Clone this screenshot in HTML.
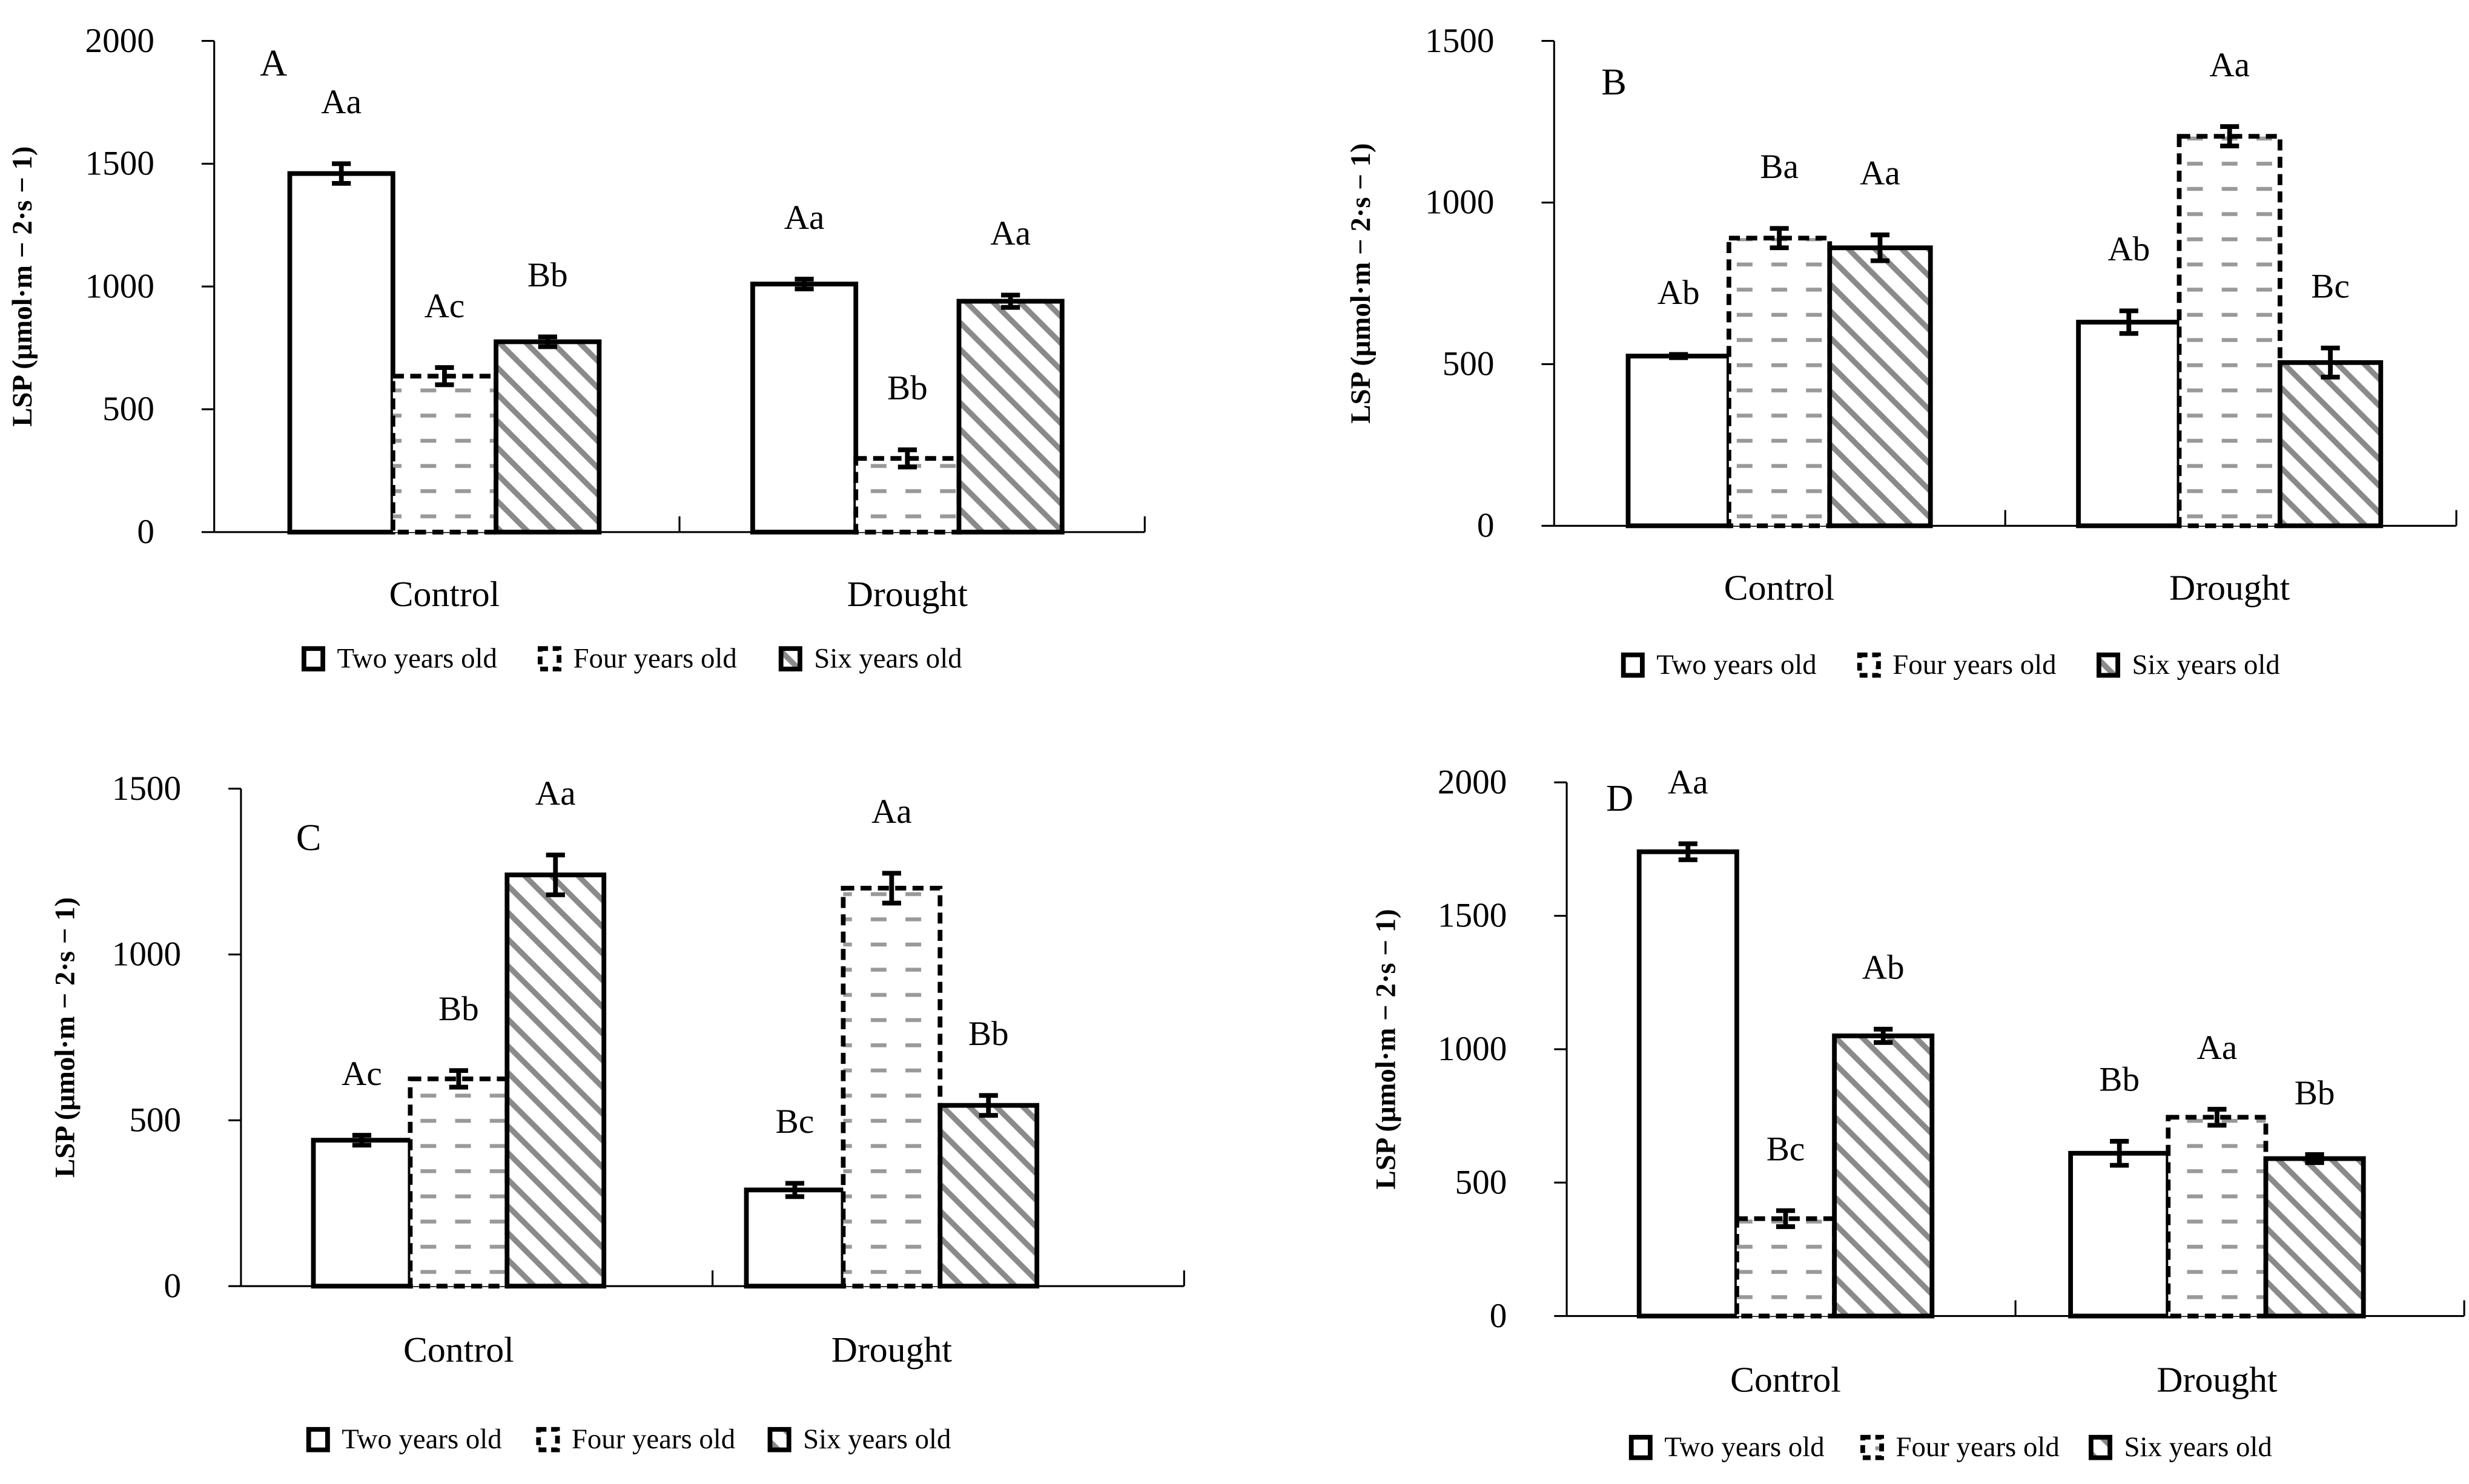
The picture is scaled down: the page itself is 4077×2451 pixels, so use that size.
<!DOCTYPE html>
<html><head><meta charset="utf-8"><style>
html,body{margin:0;padding:0;background:#fff;}
svg{display:block;}
svg text{font-family:"Liberation Serif","DejaVu Serif",serif;}
</style></head><body>
<svg id="chart" width="4077" height="2451" viewBox="0 0 1568 942.7" xmlns="http://www.w3.org/2000/svg" font-family="Liberation Serif, serif">
<defs>
<pattern id="dash" width="22" height="16" patternUnits="userSpaceOnUse">
<rect width="22" height="16" fill="#fff"/>
<line x1="3" y1="8" x2="13" y2="8" stroke="#999" stroke-width="2.5"/>
</pattern>
<pattern id="diag" width="12" height="12" patternUnits="userSpaceOnUse" patternTransform="rotate(45)">
<rect width="12" height="12" fill="#fff"/>
<rect x="0" y="0" width="12" height="3.5" fill="#8a8a8a"/>
</pattern>
</defs>
</svg>
<script>
const categories = ["Control", "Drought"];
const seriesNames = ["Two years old", "Four years old", "Six years old"];
const yTicksA = [0, 500, 1000, 1500, 2000];
const yTicksB = [0, 500, 1000, 1500];
const yTicksC = [0, 500, 1000, 1500];
const yTicksD = [0, 500, 1000, 1500, 2000];
const valuesA = [[1460, 635, 775], [1010, 300, 940]];
const errorsA = [[40, 35, 20], [20, 35, 25]];
const lettersA = [["Aa", "Ac", "Bb"], ["Aa", "Bb", "Aa"]];
const valuesB = [[525, 890, 860], [630, 1205, 505]];
const errorsB = [[5, 30, 40], [35, 30, 45]];
const lettersB = [["Ab", "Ba", "Aa"], ["Ab", "Aa", "Bc"]];
const valuesC = [[440, 625, 1240], [290, 1200, 545]];
const errorsC = [[15, 25, 60], [20, 45, 30]];
const lettersC = [["Ac", "Bb", "Aa"], ["Bc", "Aa", "Bb"]];
const valuesD = [[1740, 365, 1050], [610, 745, 590]];
const errorsD = [[30, 30, 25], [45, 30, 15]];
const lettersD = [["Aa", "Bc", "Ab"], ["Bb", "Aa", "Bb"]];

const NS = "http://www.w3.org/2000/svg";
const svg = document.getElementById("chart");
function mk(tag, attrs, parent) {
  const e = document.createElementNS(NS, tag);
  for (const k in attrs) e.setAttribute(k, attrs[k]);
  if (tag === "text") e.setAttribute("font-family", "Liberation Serif, serif");
  (parent || svg).appendChild(e);
  return e;
}
const fills = ["#fff", "url(#dash)", "url(#diag)"];
const dashes = ["none", "7,4", "none"];

const panels = [
  {id:"a", letter:"A", ax:136, top:26, zero:338, right:727, ticks:yTicksA, vals:valuesA, errs:errorsA, lets:lettersA, ylx:20, lx:[165,48], catY:385, legY:418, legX:[193,343,496], g0:184, bw:65.5, gstep:294},
  {id:"b", letter:"B", ax:987, top:26, zero:334, right:1560, ticks:yTicksB, vals:valuesB, errs:errorsB, lets:lettersB, ylx:870, lx:[1017,60], catY:381, legY:422, legX:[1031,1181,1333], g0:1034, bw:64, gstep:286},
  {id:"c", letter:"C", ax:153, top:501, zero:817, right:752, ticks:yTicksC, vals:valuesC, errs:errorsC, lets:lettersC, ylx:47, lx:[188,540], catY:865, legY:914, legX:[196,342,489], g0:199, bw:61.5, gstep:275},
  {id:"d", letter:"D", ax:995, top:497, zero:836, right:1565, ticks:yTicksD, vals:valuesD, errs:errorsD, lets:lettersD, ylx:886, lx:[1020,515], catY:884, legY:919, legX:[1036,1183,1328], g0:1041, bw:62, gstep:274}
];

panels.forEach(p => {
  const g = mk("g", {});
  
  
  const max = p.ticks[p.ticks.length - 1];
  const y = v => p.zero - v / max * (p.zero - p.top);
  const xBar = (c, s) => p.g0 + c * p.gstep + s * p.bw;
  const ya = mk("line", {x1:p.ax, y1:p.top, x2:p.ax, y2:p.zero, stroke:"#000", "stroke-width":1.2}, g);
  
  
  p.ticks.forEach(t => {
    mk("line", {x1:p.ax - 8, y1:y(t), x2:p.ax, y2:y(t), stroke:"#000", "stroke-width":1.2}, g);
    const tl = mk("text", {x:p.ax - 38, y:y(t) + 7, "text-anchor":"end", "font-size":22}, g);
    tl.textContent = t;
    
    
  });
  const xa = mk("line", {x1:p.ax, y1:p.zero, x2:p.right, y2:p.zero, stroke:"#000", "stroke-width":1.2}, g);
  
  
  const mid = (p.ax + p.right) / 2;
  [mid, p.right].forEach(xx => mk("line", {x1:xx, y1:p.zero - 10, x2:xx, y2:p.zero, stroke:"#000", "stroke-width":1.2}, g));
  const yl = mk("text", {x:0, y:0, transform:`translate(${p.ylx},${(p.top + p.zero) / 2}) rotate(-90)`, "text-anchor":"middle", "font-size":18, "font-weight":"bold"}, g);
  yl.textContent = "LSP (μmol·m − 2·s − 1)";
  
  
  const pl = mk("text", {x:p.lx[0], y:p.lx[1], "font-size":24}, g);
  pl.textContent = p.letter;
  
  
  categories.forEach((cat, c) => {
    seriesNames.forEach((sn, s) => {
      const v = p.vals[c][s], e = p.errs[c][s];
      const x0 = xBar(c, s);
      const r = mk("rect", {x:x0, y:y(v), width:p.bw, height:p.zero - y(v), fill:fills[s], stroke:"#000", "stroke-width":3, "stroke-dasharray":dashes[s]}, g);
      
      
      const cx = x0 + p.bw / 2;
      const eb = mk("path", {d:`M${cx},${y(v + e)}V${y(v - e)}M${cx - 6},${y(v + e)}H${cx + 6}M${cx - 6},${y(v - e)}H${cx + 6}`, stroke:"#000", "stroke-width":3, fill:"none"}, g);
      
      
      const lt = mk("text", {x:cx, y:y(v + e) - 32, "text-anchor":"middle", "font-size":22}, g);
      lt.textContent = p.lets[c][s];
      
      
    });
    const ct = mk("text", {x:xBar(c, 1) + p.bw / 2, y:p.catY, "text-anchor":"middle", "font-size":23}, g);
    ct.textContent = cat;
    
    
  });
  seriesNames.forEach((sn, s) => {
    const lx = p.legX[s];
    const ic = mk("rect", {x:lx, y:p.legY - 6, width:12, height:13, fill:fills[s], stroke:"#000", "stroke-width":3, "stroke-dasharray":dashes[s] === "none" ? "none" : "5,3"}, g);
    
    
    const tx = mk("text", {x:lx + 21, y:p.legY + 6, "font-size":18}, g);
    tx.textContent = sn;
    
    
  });
});
</script>
</body></html>
